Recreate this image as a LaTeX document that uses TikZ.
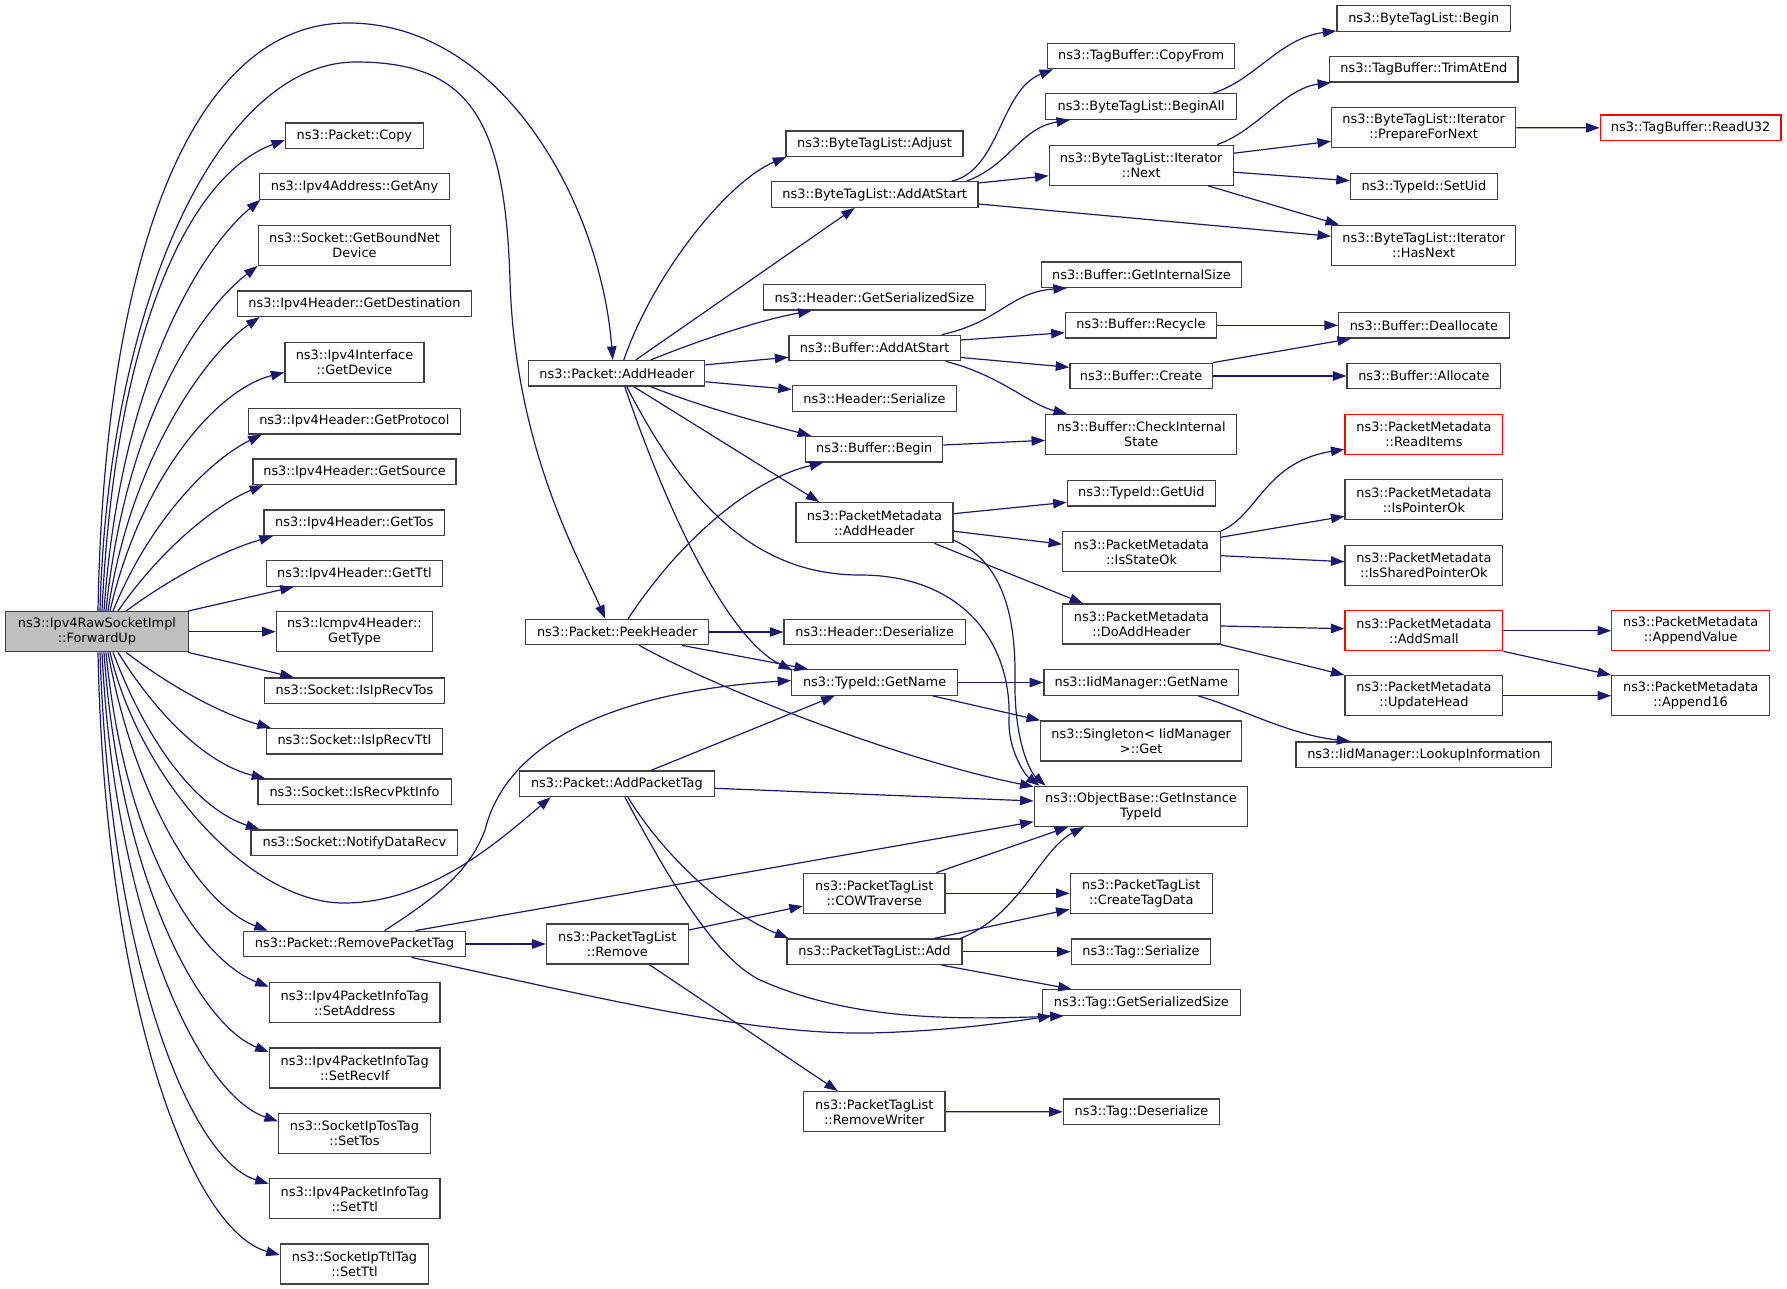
\documentclass[tikz,border=0pt]{standalone}
\usepackage{fontspec}
\setmainfont{DejaVu Sans}
\usetikzlibrary{arrows.meta,calc}
\definecolor{edgec}{HTML}{191970}
\definecolor{rootfill}{HTML}{BFBFBF}
\definecolor{boxline}{HTML}{404040}
\tikzset{
  box/.style={draw=boxline, line width=1.3pt, inner sep=0pt, align=center, fill=white,
    font=\fontsize{12.9}{15}\selectfont, minimum height=25.5pt},
  dbl/.style={minimum height=40pt},
  redbox/.style={draw=red},
  rootbox/.style={fill=rootfill},
  e/.style={draw=edgec, line width=1.2pt, -{Triangle[length=13.5pt,width=9.5pt]}},
}
\begin{document}
\begin{tikzpicture}[x=1pt,y=-1pt]
\useasboundingbox (0,0) rectangle (1787,1289);
% column 0/1
\node[box,dbl,rootbox,minimum width=182.6pt] (fu) at (97,631.7) {ns3::Ipv4RawSocketImpl\\::ForwardUp};
\node[box,minimum width=137.7pt] (copy) at (354.4,135.8) {ns3::Packet::Copy};
\node[box,minimum width=189.4pt] (getany) at (354.5,186.5) {ns3::Ipv4Address::GetAny};
\node[box,dbl,minimum width=192.5pt] (bound) at (354.5,245.3) {ns3::Socket::GetBoundNet\\Device};
\node[box,minimum width=234.6pt] (dest) at (354.5,303.7) {ns3::Ipv4Header::GetDestination};
\node[box,dbl,minimum width=139pt] (idev) at (354.5,362.3) {ns3::Ipv4Interface\\::GetDevice};
\node[box,minimum width=212pt] (proto) at (354.3,421.2) {ns3::Ipv4Header::GetProtocol};
\node[box,minimum width=203.2pt] (src) at (354.5,471.8) {ns3::Ipv4Header::GetSource};
\node[box,minimum width=180.6pt] (tos) at (354.4,522.7) {ns3::Ipv4Header::GetTos};
\node[box,minimum width=176pt] (ttl) at (354.4,573.5) {ns3::Ipv4Header::GetTtl};
\node[box,dbl,minimum width=156.1pt] (icmp) at (354.4,631.7) {ns3::Icmpv4Header::\\GetType};
\node[box,minimum width=180.3pt] (rtos) at (354.5,690.7) {ns3::Socket::IsIpRecvTos};
\node[box,minimum width=176pt] (rttl) at (354.4,741.2) {ns3::Socket::IsIpRecvTtl};
\node[box,minimum width=193.3pt] (pkt) at (354.5,791.8) {ns3::Socket::IsRecvPktInfo};
\node[box,minimum width=206.7pt] (notify) at (354.4,842.7) {ns3::Socket::NotifyDataRecv};
\node[box,minimum width=222.3pt] (rmtag) at (354.5,944) {ns3::Packet::RemovePacketTag};
\node[box,dbl,minimum width=170.7pt] (setaddr) at (354.7,1002.7) {ns3::Ipv4PacketInfoTag\\::SetAddress};
\node[box,dbl,minimum width=170.7pt] (setrecv) at (354.7,1068) {ns3::Ipv4PacketInfoTag\\::SetRecvIf};
\node[box,dbl,minimum width=151.9pt] (settos) at (354.5,1133.3) {ns3::SocketIpTosTag\\::SetTos};
\node[box,dbl,minimum width=170.7pt] (setttla) at (354.7,1198.7) {ns3::Ipv4PacketInfoTag\\::SetTtl};
\node[box,dbl,minimum width=148.1pt] (setttlb) at (354.5,1264) {ns3::SocketIpTtlTag\\::SetTtl};
% column 2
\node[box,minimum width=176pt] (addh) at (616.8,373.3) {ns3::Packet::AddHeader};
\node[box,minimum width=182.8pt] (peek) at (617.2,632) {ns3::Packet::PeekHeader};
\node[box,minimum width=195.1pt] (addtag) at (616.9,783.8) {ns3::Packet::AddPacketTag};
\node[box,dbl,minimum width=141.9pt] (ptlrm) at (617.3,944) {ns3::PacketTagList\\::Remove};
% column 3
\node[box,minimum width=177.2pt] (adjust) at (874.5,143.7) {ns3::ByteTagList::Adjust};
\node[box,minimum width=206.6pt] (btladd) at (874.7,194.5) {ns3::ByteTagList::AddAtStart};
\node[box,minimum width=222.4pt] (hgss) at (874.5,297.3) {ns3::Header::GetSerializedSize};
\node[box,minimum width=171.4pt] (badd) at (874.7,348) {ns3::Buffer::AddAtStart};
\node[box,minimum width=164.2pt] (hser) at (874.5,398.5) {ns3::Header::Serialize};
\node[box,minimum width=137pt] (bbegin) at (874.3,449.2) {ns3::Buffer::Begin};
\node[box,dbl,minimum width=156.9pt] (pmadd) at (874.4,522.7) {ns3::PacketMetadata\\::AddHeader};
\node[box,minimum width=181.4pt] (hdes) at (874.7,632) {ns3::Header::Deserialize};
\node[box,minimum width=165.7pt] (gname) at (874.6,682.5) {ns3::TypeId::GetName};
\node[box,dbl,minimum width=141.6pt] (cow) at (874.3,893.3) {ns3::PacketTagList\\::COWTraverse};
\node[box,minimum width=174.8pt] (ptladd) at (874.5,951.7) {ns3::PacketTagList::Add};
\node[box,dbl,minimum width=141.6pt] (rmw) at (874.3,1111.7) {ns3::PacketTagList\\::RemoveWriter};
% column 4
\node[box,minimum width=186.8pt] (copyfrom) at (1141.1,56) {ns3::TagBuffer::CopyFrom};
\node[box,minimum width=191pt] (beginall) at (1141.2,106.5) {ns3::ByteTagList::BeginAll};
\node[box,dbl,minimum width=184.1pt] (next) at (1141.2,165.2) {ns3::ByteTagList::Iterator\\::Next};
\node[box,minimum width=199.8pt] (gis) at (1141.4,274.7) {ns3::Buffer::GetInternalSize};
\node[box,minimum width=151.2pt] (recycle) at (1140.9,325.3) {ns3::Buffer::Recycle};
\node[box,minimum width=142.4pt] (create) at (1141.1,376) {ns3::Buffer::Create};
\node[box,dbl,minimum width=191pt] (cis) at (1141.2,434.3) {ns3::Buffer::CheckInternal\\State};
\node[box,minimum width=148.1pt] (getuid) at (1141.3,493.3) {ns3::TypeId::GetUid};
\node[box,dbl,minimum width=157.7pt] (stateok) at (1141.5,551.7) {ns3::PacketMetadata\\::IsStateOk};
\node[box,dbl,minimum width=157.7pt] (doadd) at (1141.5,624) {ns3::PacketMetadata\\::DoAddHeader};
\node[box,minimum width=194.9pt] (iidname) at (1141.3,682.5) {ns3::IidManager::GetName};
\node[box,dbl,minimum width=200.9pt] (single) at (1141.2,741) {ns3::Singleton< IidManager\\>::Get};
\node[box,dbl,minimum width=213.5pt] (obase) at (1141,806.3) {ns3::ObjectBase::GetInstance\\TypeId};
\node[box,dbl,minimum width=142.1pt] (ctd) at (1141.3,893.3) {ns3::PacketTagList\\::CreateTagData};
\node[box,minimum width=139.3pt] (tser) at (1141,951.7) {ns3::Tag::Serialize};
\node[box,minimum width=197.9pt] (tgss) at (1141.3,1002.5) {ns3::Tag::GetSerializedSize};
\node[box,minimum width=156.2pt] (tdes) at (1141.4,1111.8) {ns3::Tag::Deserialize};
% column 5
\node[box,minimum width=173.7pt] (btlbegin) at (1423.8,18.5) {ns3::ByteTagList::Begin};
\node[box,minimum width=188.3pt] (trim) at (1423.9,69.3) {ns3::TagBuffer::TrimAtEnd};
\node[box,dbl,minimum width=184.1pt] (prep) at (1423.7,127.7) {ns3::ByteTagList::Iterator\\::PrepareForNext};
\node[box,minimum width=146.9pt] (setuid) at (1423.9,186.5) {ns3::TypeId::SetUid};
\node[box,dbl,minimum width=184.1pt] (hasnext) at (1423.7,245.3) {ns3::ByteTagList::Iterator\\::HasNext};
\node[box,minimum width=170.7pt] (dealloc) at (1423.9,325.3) {ns3::Buffer::Deallocate};
\node[box,minimum width=153.8pt] (alloc) at (1423.9,376) {ns3::Buffer::Allocate};
\node[box,dbl,redbox,minimum width=157.7pt] (readitems) at (1423.9,434.3) {ns3::PacketMetadata\\::ReadItems};
\node[box,dbl,minimum width=157.7pt] (ptrok) at (1423.9,499.8) {ns3::PacketMetadata\\::IsPointerOk};
\node[box,dbl,minimum width=157.7pt] (sptrok) at (1423.9,565.3) {ns3::PacketMetadata\\::IsSharedPointerOk};
\node[box,dbl,redbox,minimum width=157.7pt] (addsmall) at (1423.9,630.7) {ns3::PacketMetadata\\::AddSmall};
\node[box,dbl,minimum width=157.7pt] (uphead) at (1423.9,695.7) {ns3::PacketMetadata\\::UpdateHead};
\node[box,minimum width=255.7pt] (lookup) at (1423.9,754.7) {ns3::IidManager::LookupInformation};
% column 6
\node[box,redbox,minimum width=180.6pt] (readu) at (1690.6,127.8) {ns3::TagBuffer::ReadU32};
\node[box,dbl,redbox,minimum width=157.7pt] (appval) at (1690.6,630.7) {ns3::PacketMetadata\\::AppendValue};
\node[box,dbl,minimum width=157.7pt] (appsix) at (1690.6,695.7) {ns3::PacketMetadata\\::Append16};

% ===== edges from ForwardUp =====
\draw[e] ($(fu.north)+(1,0)$) .. controls (104,260) and (190,23) .. (348,23) .. controls (500,23) and (600,200) .. ($(addh.north)+(-4,0)$);
\draw[e] ($(fu.north)+(3,0)$) .. controls (108,300) and (220,62) .. (356,62) .. controls (470,62) and (505,120) .. (510,280) .. controls (515,450) and (580,560) .. ($(peek.north)+(-12,0)$);
\draw[e] ($(fu.north)+(5,0)$) .. controls (115,330) and (190,175) .. ($(copy.west)+(0,4.2)$);
\draw[e] ($(fu.north)+(7,0)$) .. controls (120,380) and (200,250) .. ($(getany.south west)+(1,0)$);
\draw[e] ($(fu.north)+(9,0)$) .. controls (125,420) and (200,310) .. (bound.south west);
\draw[e] ($(fu.north)+(11,0)$) .. controls (130,460) and (205,355) .. ($(dest.south west)+(23,0)$);
\draw[e] ($(fu.north)+(13,0)$) .. controls (140,480) and (215,390) .. ($(idev.west)+(0,10)$);
\draw[e] ($(fu.north)+(16,0)$) .. controls (150,520) and (210,460) .. ($(proto.south west)+(14,0)$);
\draw[e] ($(fu.north)+(21,0)$) .. controls (160,550) and (215,505) .. ($(src.south west)+(11,0)$);
\draw[e] ($(fu.north)+(29,0)$) .. controls (175,575) and (225,550) .. ($(tos.south west)+(9.5,0)$);
\draw[e] ($(fu.north east)+(-1,0)$) -- ($(ttl.south west)+(28,0)$);
\draw[e] (fu.east) -- (icmp.west);
\draw[e] ($(fu.south east)+(-1,0)$) -- ($(rtos.north west)+(30,0)$);
\draw[e] ($(fu.south)+(29,0)$) .. controls (175,690) and (225,715) .. ($(rttl.north west)+(5,0)$);
\draw[e] ($(fu.south)+(21,0)$) .. controls (160,720) and (210,765) .. ($(pkt.north west)+(8,0)$);
\draw[e] ($(fu.south)+(16,0)$) .. controls (150,750) and (200,810) .. ($(notify.north west)+(9,0)$);
\draw[e] ($(fu.south)+(13,0)$) .. controls (140,780) and (250,903) .. (344,903) .. controls (430,903) and (500,840) .. ($(addtag.south west)+(32,0)$);
\draw[e] ($(fu.south)+(11,0)$) .. controls (135,800) and (200,905) .. ($(rmtag.north west)+(25,0)$);
\draw[e] ($(fu.south)+(9,0)$) .. controls (125,850) and (200,960) .. ($(setaddr.west)+(0,-16)$);
\draw[e] ($(fu.south)+(7,0)$) .. controls (120,880) and (200,1025) .. ($(setrecv.west)+(0,-16)$);
\draw[e] ($(fu.south)+(5,0)$) .. controls (115,920) and (200,1095) .. ($(settos.west)+(0,-12)$);
\draw[e] ($(fu.south)+(3,0)$) .. controls (110,960) and (190,1160) .. ($(setttla.west)+(0,-15)$);
\draw[e] ($(fu.south)+(1,0)$) .. controls (105,1000) and (190,1230) .. ($(setttlb.west)+(0,-9)$);

% ===== AddHeader =====
\draw[e] ($(addh.north)+(7,0)$) .. controls (655,270) and (730,180) .. ($(adjust.south west)+(1,0)$);
\draw[e] ($(addh.north)+(19,0)$) -- ($(btladd.south)+(-20,0)$);
\draw[e] ($(addh.north)+(34,0)$) .. controls (700,340) and (760,320) .. ($(hgss.south west)+(49,0)$);
\draw[e] ($(addh.east)+(0,-8.5)$) -- ($(badd.west)+(0,9.3)$);
\draw[e] ($(addh.east)+(0,8.5)$) -- ($(hser.west)+(0,-9)$);
\draw[e] ($(addh.south)+(34,0)$) .. controls (710,410) and (770,425) .. ($(bbegin.north west)+(6,0)$);
\draw[e] ($(addh.south)+(17,0)$) -- ($(pmadd.north west)+(24,0)$);
\draw[e] ($(addh.south)+(8,0)$) .. controls (670,520) and (730,640) .. ($(gname.north west)+(1,1)$);
\draw[e] ($(addh.south)+(10,0)$) .. controls (690,510) and (760,575) .. (860,575) .. controls (960,575) and (1012,640) .. (1009,720) .. controls (1008,750) and (1025,775) .. ($(obase.north west)+(6,0)$);

% ===== PeekHeader =====
\draw[e] ($(peek.north)+(11,0)$) .. controls (680,540) and (750,480) .. ($(bbegin.south west)+(18,0)$);
\draw[e] (peek.east) -- (hdes.west);
\draw[e] ($(peek.south)+(65,0)$) -- ($(gname.north west)+(17,0)$);
\draw[e] ($(peek.south)+(22,0)$) .. controls (720,690) and (900,760) .. ($(obase.north west)+(0,1)$);

% ===== AddPacketTag =====
\draw[e] ($(addtag.north)+(34,0)$) -- ($(gname.south)+(-40,0)$);
\draw[e] ($(addtag.east)+(0,4.5)$) -- ($(obase.west)+(0,-5.3)$);
\draw[e] ($(addtag.south)+(11,0)$) .. controls (660,850) and (720,910) .. ($(ptladd.north west)+(2,0)$);
\draw[e] ($(addtag.south)+(8,0)$) .. controls (680,900) and (720,960) .. (760,980) .. controls (850,1020) and (950,1020) .. ($(tgss.south west)+(22,0)$);

% ===== RemovePacketTag =====
\draw[e] ($(rmtag.north)+(30,0)$) .. controls (440,895) and (470,870) .. (485,830) .. controls (510,730) and (640,690) .. ($(gname.west)+(0,-2)$);
\draw[e] ($(rmtag.north)+(61,0)$) -- ($(obase.west)+(0,15.4)$);
\draw[e] (rmtag.east) -- (ptlrm.west);
\draw[e] ($(rmtag.south)+(57,0)$) .. controls (600,998) and (750,1035) .. (870,1033) .. controls (950,1031) and (1010,1022) .. ($(tgss.south west)+(10,0)$);

% ===== PacketTagList::Remove =====
\draw[e] ($(ptlrm.east)+(0,-14)$) -- ($(cow.west)+(0,12.7)$);
\draw[e] ($(ptlrm.south)+(32,0)$) -- ($(rmw.north west)+(35,0)$);

% ===== PacketTagList::Add =====
\draw[e] ($(ptladd.north)+(60,0)$) -- ($(ctd.west)+(0,16)$);
\draw[e] (ptladd.east) -- (tser.west);
\draw[e] ($(ptladd.south)+(67,0)$) -- ($(tgss.north west)+(30,0)$);
\draw[e] ($(ptladd.north east)+(-2,0)$) .. controls (1020,915) and (1040,850) .. ($(obase.south)+(-57,0)$);

% ===== COWTraverse / RemoveWriter =====
\draw[e] (cow.east) -- (ctd.west);
\draw[e] ($(cow.north)+(62,0)$) -- ($(obase.south)+(-73,0)$);
\draw[e] (rmw.east) -- (tdes.west);

% ===== ByteTagList::AddAtStart =====
\draw[e] ($(btladd.north)+(77,0)$) .. controls (1000,170) and (1000,90) .. ($(copyfrom.south west)+(6,0)$);
\draw[e] ($(btladd.north)+(92,0)$) .. controls (1010,165) and (1020,128) .. ($(beginall.south west)+(25,0)$);
\draw[e] ($(btladd.east)+(0,-11.5)$) -- ($(next.west)+(0,10.5)$);
\draw[e] ($(btladd.east)+(0,9.5)$) -- ($(hasnext.west)+(0,-9)$);

% ===== BeginAll / Next =====
\draw[e] ($(beginall.north)+(72,0)$) .. controls (1255,80) and (1280,38) .. ($(btlbegin.south west)+(0,-1)$);
\draw[e] ($(next.north)+(76,0)$) .. controls (1255,132) and (1285,88) .. ($(trim.south west)+(2,0)$);
\draw[e] ($(next.east)+(0,-12)$) -- ($(prep.west)+(0,13.6)$);
\draw[e] ($(next.east)+(0,7)$) -- ($(setuid.west)+(0,-5.8)$);
\draw[e] ($(next.south)+(67,0)$) -- ($(hasnext.north west)+(8,0)$);
\draw[e] (prep.east) -- (readu.west);

% ===== Buffer::AddAtStart =====
\draw[e] ($(badd.north)+(67,0)$) .. controls (1000,322) and (1010,292) .. ($(gis.south west)+(26,0)$);
\draw[e] ($(badd.east)+(0,-8)$) -- ($(recycle.west)+(0,7.4)$);
\draw[e] ($(badd.east)+(0,9.5)$) -- ($(create.west)+(0,-8.7)$);
\draw[e] ($(badd.south)+(71,0)$) .. controls (1000,375) and (1030,405) .. ($(cis.north west)+(22,0)$);
\draw[e] (recycle.east) -- (dealloc.west);
\draw[e] (create.north east) -- ($(dealloc.south west)+(13,0)$);
\draw[e] (create.east) -- (alloc.west);
\draw[e] ($(bbegin.east)+(0,-4.2)$) -- ($(cis.west)+(0,6)$);

% ===== PacketMetadata::AddHeader =====
\draw[e] ($(pmadd.east)+(0,-9)$) -- ($(getuid.west)+(0,9)$);
\draw[e] ($(pmadd.east)+(0,8.5)$) -- ($(stateok.west)+(0,-7.5)$);
\draw[e] ($(pmadd.south)+(60,0)$) -- ($(doadd.north west)+(21,0)$);
\draw[e] ($(pmadd.east)+(0,17.5)$) .. controls (1000,560) and (1016,610) .. (1015,680) .. controls (1014,740) and (1030,772) .. ($(obase.north west)+(12,0)$);

% ===== IsStateOk / DoAddHeader =====
\draw[e] (stateok.north east) .. controls (1258,515) and (1265,462) .. ($(readitems.west)+(0,15)$);
\draw[e] ($(stateok.east)+(0,-14.5)$) -- ($(ptrok.west)+(0,16.5)$);
\draw[e] ($(stateok.east)+(0,4)$) -- ($(sptrok.west)+(0,-3.6)$);
\draw[e] ($(doadd.east)+(0,2)$) -- ($(addsmall.west)+(0,-2)$);
\draw[e] (doadd.south east) -- (uphead.north west);
\draw[e] (addsmall.east) -- (appval.west);
\draw[e] (addsmall.south east) -- (appsix.north west);
\draw[e] (uphead.east) -- (appsix.west);

% ===== TypeId::GetName =====
\draw[e] (gname.east) -- (iidname.west);
\draw[e] ($(gname.south)+(58,0)$) -- (single.north west);
\draw[e] ($(iidname.south)+(57,0)$) .. controls (1240,708) and (1290,735) .. ($(lookup.north west)+(55,0)$);
\end{tikzpicture}
\end{document}
